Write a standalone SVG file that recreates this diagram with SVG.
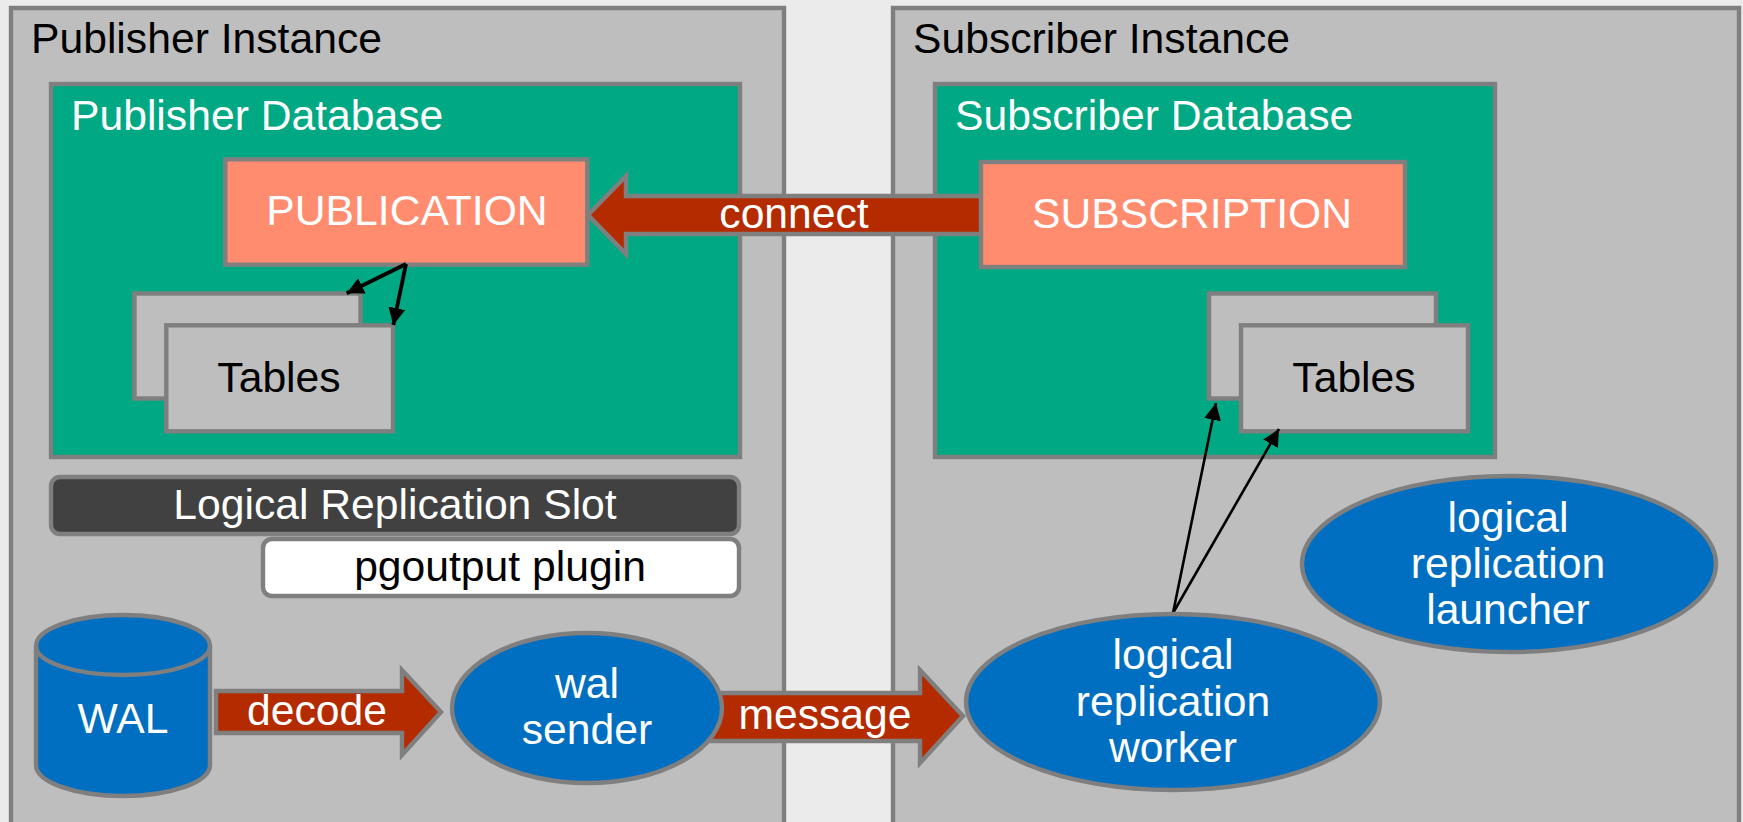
<svg xmlns="http://www.w3.org/2000/svg" width="1743" height="822" viewBox="0 0 1743 822">
<style>
text{font-family:"Liberation Sans",Arial,sans-serif;font-size:42.67px}
.s{stroke:#7f7f7f;stroke-width:4.4}
.panel{fill:#bebebe}.db{fill:#00a983}.sal{fill:#ff8c6e}.blue{fill:#006fc1}.red{fill:#b52b00}
.w{fill:#fff}.k{fill:#000}.m{text-anchor:middle}
.thin{stroke:#000;fill:none}
</style>
<defs>
<marker id="ah" markerUnits="userSpaceOnUse" markerWidth="18" markerHeight="18" refX="17" refY="9" orient="auto"><path d="M0 0.500L17 9L0 17.500Z" fill="#000"/></marker>
</defs>
<rect width="1743" height="822" fill="#ebebeb"/>
<g id="publisher-instance"><path class="s panel" d="M11 830V8H784V830"/><text class="k" x="31" y="53">Publisher Instance</text></g>
<g id="subscriber-instance"><path class="s panel" d="M893 830V8H1739V830"/><text class="k" x="913" y="53">Subscriber Instance</text></g>
<g id="publisher-database"><rect class="s db" x="51" y="84" width="689" height="373"/><text class="w" x="71" y="130">Publisher Database</text></g>
<g id="subscriber-database"><rect class="s db" x="935" y="84" width="560" height="373"/><text class="w" x="955" y="130">Subscriber Database</text></g>
<g id="publisher-tables"><rect class="s panel" x="134.500" y="293.500" width="226" height="105"/><rect class="s panel" x="166.300" y="325.300" width="226.700" height="106"/><text class="k m" x="279" y="392">Tables</text></g>
<g id="subscriber-tables"><rect class="s panel" x="1209" y="293.500" width="227" height="105"/><rect class="s panel" x="1241" y="325.300" width="227" height="106"/><text class="k m" x="1354" y="392">Tables</text></g>
<g id="publication"><rect class="s sal" x="225.300" y="159.300" width="362" height="105.400"/><text class="w m" x="407" y="225">PUBLICATION</text></g>
<g id="connectors">
<path class="s red" d="M985 196H626V176L588 215L626 254V234H985Z"/>
<text class="w m" x="794" y="228">connect</text>
<path class="s red" d="M216 691H402V670L441 712L402 755V733H216Z"/>
<text class="w m" x="317" y="725">decode</text>
<path class="s red" d="M700 693H920V670L963 716L920 763V741H700Z"/>
<text class="w m" x="825" y="729">message</text>
<path class="thin" stroke-width="3.800" marker-end="url(#ah)" d="M406 264L346.700 293.300"/>
<path class="thin" stroke-width="3.800" marker-end="url(#ah)" d="M406 264L393.300 325"/>
<path class="thin" stroke-width="2.600" marker-end="url(#ah)" d="M1173 613L1216 403"/>
<path class="thin" stroke-width="2.600" marker-end="url(#ah)" d="M1173 613L1279 429"/>
</g>
<g id="subscription"><rect class="s sal" x="981" y="162" width="424" height="105"/><text class="w m" x="1192" y="228">SUBSCRIPTION</text></g>
<g id="replication-slot"><rect class="s" fill="#414141" x="51" y="477" width="688" height="57" rx="9"/><text class="w m" x="395" y="519">Logical Replication Slot</text></g>
<g id="pgoutput-plugin"><rect class="s" fill="#fff" x="263" y="539" width="476" height="57" rx="9"/><text class="k m" x="500" y="581">pgoutput plugin</text></g>
<g id="wal"><path class="s blue" d="M36 646V765A87 31 0 0 0 210 765V646A87 31 0 0 0 36 646Z"/><path class="s" fill="none" d="M36 646A87 29 0 0 0 210 646"/><text class="w m" x="123" y="733">WAL</text></g>
<g id="wal-sender"><ellipse class="s blue" cx="587" cy="708" rx="135" ry="75"/><text class="w m" x="587" y="698">wal</text><text class="w m" x="587" y="744">sender</text></g>
<g id="worker"><ellipse class="s blue" cx="1173" cy="702" rx="207" ry="88"/><text class="w m" x="1173" y="669">logical</text><text class="w m" x="1173" y="716">replication</text><text class="w m" x="1173" y="762">worker</text></g>
<g id="launcher"><ellipse class="s blue" cx="1509" cy="564" rx="207" ry="88"/><text class="w m" x="1508" y="532">logical</text><text class="w m" x="1508" y="578">replication</text><text class="w m" x="1508" y="624">launcher</text></g>
</svg>
